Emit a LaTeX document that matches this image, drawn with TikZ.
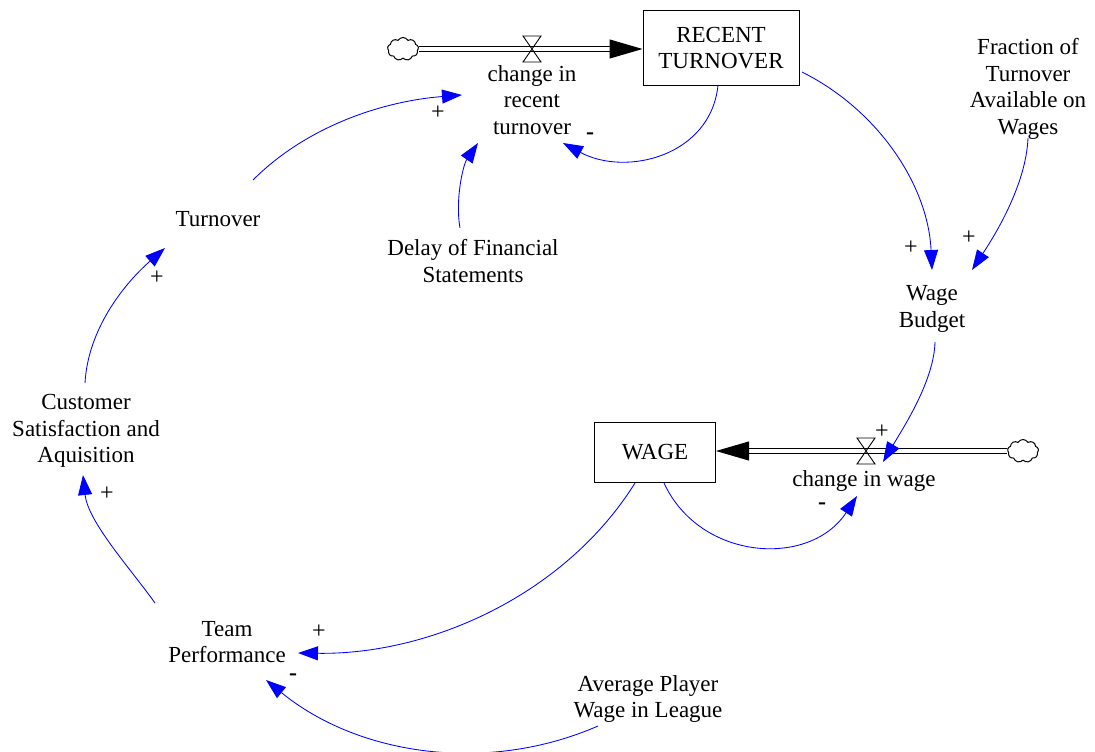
\documentclass[tikz,border=0pt]{standalone}
\usepackage{fontspec}
\setmainfont{Liberation Serif}
\usetikzlibrary{arrows.meta,shapes.symbols}
\begin{document}
\begin{tikzpicture}[x=1pt,y=-1pt,
  every node/.style={font=\fontsize{23}{26.5}\selectfont, align=center, inner sep=0pt},
  stock/.style={draw, line width=1pt, minimum height=74pt},
  link/.style={draw=blue, line width=0.85pt, -{Triangle[length=20pt,width=14pt]}, fill=none},
  pipe/.style={draw, line width=1pt, double, double distance=4.5pt, -{Triangle[length=33pt,width=19pt]}},
  sign/.style={font=\fontsize{24}{24}\selectfont},
  source/.style={cloud, cloud puffs=9, cloud puff arc=120, aspect=1.3, draw, line width=1pt,
    minimum width=31pt, minimum height=23pt, inner sep=0pt},
  valvelines/.style={draw, line width=0.9pt}
]
\useasboundingbox (0,0) rectangle (1095,752);

% stocks
\node[stock, minimum width=156pt, minimum height=74pt] (rt) at (721,48) {RECENT\\TURNOVER};
\node[stock, minimum width=121pt, minimum height=60pt] (wage) at (655,452) {WAGE};

% sources
\node[source] (cloudT) at (403,49) {};
\node[source] (cloudW) at (1023,451) {};

% valves
\coordinate (valveT) at (532,49);
\coordinate (valveW) at (866,451);

% flows
\draw[pipe] (cloudT.east) -- (cloudT.east -| rt.west);
\draw[pipe] (cloudW.west) -- (cloudW.west -| wage.east);
\draw[valvelines] ([shift={(-9,-13)}]valveT) -- ++(18,0) -- ++(-18,26) -- ++(18,0) -- cycle;
\draw[valvelines] ([shift={(-9,-13)}]valveW) -- ++(18,0) -- ++(-18,26) -- ++(18,0) -- cycle;

% auxiliaries and flow names
\node (crt) at (532,100) {change in\\recent\\turnover};
\node (cw) at (864,481) {change in wage};
\node (frac) at (1028,89) {Fraction of\\Turnover\\Available on\\Wages};
\node (turnover) at (218,219) {Turnover};
\node (delay) at (473,261) {Delay of Financial\\Statements};
\node (wb) at (932,309) {Wage\\Budget};
\node (cust) at (86,431) {Customer\\Satisfaction and\\Aquisition};
\node (team) at (227,642) {Team\\Performance};
\node (avg) at (648,699) {Average Player\\Wage in League};

% causal links
\draw[link] ([shift={(35,-39)}]turnover.center) .. controls (308,125) and (385,101) .. ([shift={(-70,-5)}]crt.center);
\draw[link] ([shift={(-3,37)}]rt.center) .. controls (711,156) and (626,177) .. ([shift={(31,43)}]crt.center);
\draw[link] ([shift={(-13,-33)}]delay.center) .. controls (455,200) and (463,165) .. ([shift={(-54,43)}]crt.center);
\draw[link] ([shift={(81,24)}]rt.center) .. controls (878,110) and (928,185) .. ([shift={(0,-39)}]wb.center);
\draw[link] ([shift={(0,49)}]frac.center) .. controls (1026,185) and (995,235) .. ([shift={(40,-39)}]wb.center);
\draw[link] ([shift={(3,33)}]wb.center) .. controls (934,380) and (905,425) .. ([shift={(19,-19)}]cw.center);
\draw[link] ([shift={(9,31)}]wage.center) .. controls (700,561) and (810,568) .. ([shift={(-7,15)}]cw.center);
\draw[link] ([shift={(-20,31)}]wage.center) .. controls (565,595) and (430,655) .. ([shift={(71,11)}]team.center);
\draw[link] ([shift={(-50,27)}]avg.center) .. controls (488,774) and (359,756) .. ([shift={(39,38)}]team.center);
\draw[link] ([shift={(-72,-39)}]team.center) .. controls (130,568) and (88,522) .. ([shift={(-3,44)}]cust.center);
\draw[link] ([shift={(-1,-48)}]cust.center) .. controls (88,329) and (124,284) .. ([shift={(-53,29)}]turnover.center);

% polarities
\node[sign] (s1) at (438,113) {+};
\node[sign] (s2) at (590,136) {\textbf{-}};
\node[sign] (s3) at (911,248) {+};
\node[sign] (s4) at (969,238) {+};
\node[sign] (s5) at (882,432) {+};
\node[sign] (s6) at (822,506) {\textbf{-}};
\node[sign] (s7) at (319,632) {+};
\node[sign] (s8) at (293,677) {\textbf{-}};
\node[sign] (s9) at (107,494) {+};
\node[sign] (s10) at (157,278) {+};
\end{tikzpicture}
\end{document}
